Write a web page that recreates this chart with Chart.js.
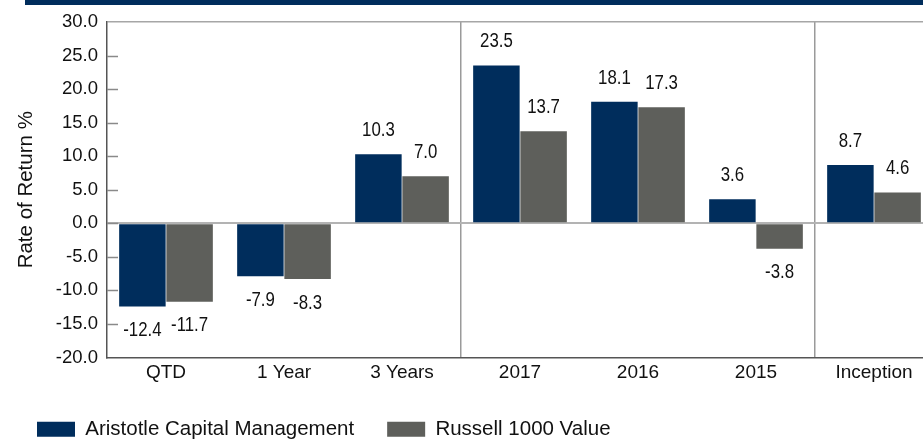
<!DOCTYPE html>
<html>
<head>
<meta charset="utf-8">
<title>Rate of Return</title>
<script src="https://cdn.jsdelivr.net/npm/chart.js@4.4.1/dist/chart.umd.min.js"></script>
<style>
  html, body { margin: 0; padding: 0; background: #fff; overflow: hidden; width: 923px; height: 441px; }
  /* the plot runs a little past the right edge of the picture, as in the source */
  #wrap { width: 933px; height: 441px; position: relative; }
</style>
</head>
<body>
<div id="wrap"><canvas id="chart"></canvas></div>
<script>
// Chart data
const categories = ['QTD', '1 Year', '3 Years', '2017', '2016', '2015', 'Inception'];
const aristotleReturns = [-12.4, -7.9, 10.3, 23.5, 18.1, 3.6, 8.7];
const russellReturns = [-11.7, -8.3, 7.0, 13.7, 17.3, -3.8, 4.6];
const seriesNames = ['Aristotle Capital Management', 'Russell 1000 Value'];
const yMin = -20;
const yMax = 30;
const yStep = 5;

const NAVY = '#002D5C';
const GREY = '#5E5F5B';
const baseFont = "'Liberation Sans', Arial, sans-serif";

// thin navy banner at the very top (bottom edge of a cut-off title bar)
const bannerPlugin = {
  id: 'banner',
  beforeDraw(chart) {
    const ctx = chart.ctx;
    ctx.save();
    ctx.fillStyle = NAVY;
    ctx.fillRect(25, 0, chart.width - 25, 5);
    ctx.restore();
  }
};

// short tick marks drawn inward from the y axis
const innerTicksPlugin = {
  id: 'innerTicks',
  afterDraw(chart) {
    const ctx = chart.ctx;
    const y = chart.scales.y;
    const left = chart.chartArea.left;
    ctx.save();
    ctx.strokeStyle = '#8a8a8a';
    ctx.lineWidth = 1.5;
    y.ticks.forEach(t => {
      if (t.value === yMax || t.value === yMin) return;
      const py = Math.round(y.getPixelForValue(t.value)) + 0.5;
      ctx.beginPath();
      ctx.moveTo(left, py);
      ctx.lineTo(left + 11, py);
      ctx.stroke();
    });
    ctx.restore();
  }
};

// value labels above / below each bar (narrow lettering, like the source)
const valueLabelsPlugin = {
  id: 'valueLabels',
  afterDatasetsDraw(chart) {
    const ctx = chart.ctx;
    const squeeze = 0.82;
    ctx.save();
    ctx.font = '20.5px ' + baseFont;
    ctx.fillStyle = '#111';
    ctx.textAlign = 'center';
    ctx.textBaseline = 'middle';
    chart.data.datasets.forEach((ds, di) => {
      chart.getDatasetMeta(di).data.forEach((bar, i) => {
        const v = ds.data[i];
        const y = v >= 0 ? bar.y - 24 : bar.y + 24;
        ctx.save();
        ctx.translate(bar.x, y);
        ctx.scale(squeeze, 1);
        ctx.fillText(v.toFixed(1), 0, 0);
        ctx.restore();
      });
    });
    ctx.restore();
  }
};

new Chart(document.getElementById('chart'), {
  type: 'bar',
  plugins: [bannerPlugin, innerTicksPlugin, valueLabelsPlugin],
  data: {
    labels: categories,
    datasets: [
      {
        label: seriesNames[0],
        data: aristotleReturns,
        backgroundColor: NAVY,
        borderWidth: 0,
        barPercentage: 0.985,
        categoryPercentage: 0.8
      },
      {
        label: seriesNames[1],
        data: russellReturns,
        backgroundColor: GREY,
        borderWidth: 0,
        barPercentage: 0.985,
        categoryPercentage: 0.8
      }
    ]
  },
  options: {
    responsive: true,
    maintainAspectRatio: false,
    animation: false,
    layout: {
      padding: { left: 4, right: 0, top: 22, bottom: -8.5 }
    },
    scales: {
      x: {
        grid: {
          drawTicks: false,
          color: ctx => (ctx.index === 3 || ctx.index === 6) ? '#9a9a9a' : 'rgba(0,0,0,0)',
          lineWidth: 1.5
        },
        border: { color: '#555', width: 1.5 },
        ticks: {
          color: '#111',
          padding: 4,
          font: { family: baseFont, size: 19 }
        },
        afterFit(scale) { scale.height = 28.5; }
      },
      y: {
        min: yMin,
        max: yMax,
        ticks: {
          stepSize: yStep,
          color: '#111',
          padding: 9,
          font: { family: baseFont, size: 18.5 },
          callback: v => Number(v).toFixed(1)
        },
        grid: {
          drawTicks: false,
          color: ctx => {
            if (!ctx.tick) return 'rgba(0,0,0,0)';
            if (ctx.tick.value === 0) return '#b3b3b3';
            if (ctx.tick.value === yMax) return '#a6a6a6';
            return 'rgba(0,0,0,0)';
          },
          lineWidth: ctx => (ctx.tick && ctx.tick.value === 0) ? 2 : 1.5
        },
        border: { color: '#555', width: 1.5 },
        title: {
          display: true,
          text: 'Rate of Return %',
          color: '#111',
          padding: { top: 10, bottom: 0 },
          font: { family: baseFont, size: 20.5 }
        },
        afterFit(scale) { scale.width = 103; }
      }
    },
    plugins: {
      legend: {
        position: 'bottom',
        align: 'start',
        labels: {
          boxWidth: 38,
          boxHeight: 15,
          padding: 33,
          color: '#111',
          font: { family: baseFont, size: 20.5 }
        }
      },
      tooltip: { enabled: false }
    }
  }
});
</script>
</body>
</html>
